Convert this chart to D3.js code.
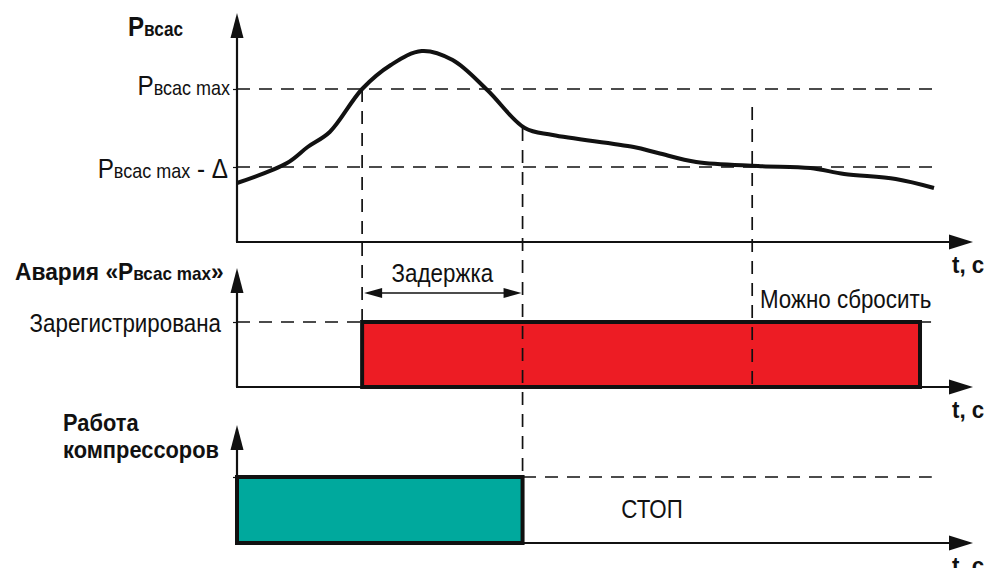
<!DOCTYPE html>
<html>
<head>
<meta charset="utf-8">
<script src="https://cdn.jsdelivr.net/npm/d3@7"></script>
<style>
body { margin: 0; background: #fff; }
text { font-family: "Liberation Sans Narrow", "Arial Narrow", "Liberation Sans", sans-serif; fill: #111; }
</style>
</head>
<body>
<script>
// time in conventional units (0..100), pressure in % of the upper panel
const pressureTimes = [0, 6.8, 9.6, 12.6, 17, 20.9, 25.1, 29.3, 34, 39.1, 42.9, 53.9, 57.2, 62.4, 70.8, 77.9, 82.5, 89.5, 94.7];
const pressureValues = [29.5, 39.5, 47.5, 55, 76.5, 88.5, 95.5, 91, 76, 57, 53.5, 47.5, 44.5, 40, 38, 37, 34, 31.5, 27];
const pMaxLevel = 76.5;
const pMaxDeltaLevel = 37.5;
// events on the time axis
const alarmOn = 17;
const delayEnd = 38.8;
const resetTime = 70;
const alarmOff = 92.8;
const levelEnd = [95, 94.3, 94.4];
// alarm / compressor states: [start, end]
const alarmState = [alarmOn, alarmOff];
const compressorState = [0, delayEnd];
// labels
const axisLabel = "t, c";
const delayLabel = "Задержка";
const resetLabel = "Можно сбросить";
const registeredLabel = "Зарегистрирована";
const stopLabel = "СТОП";

const width = 987, height = 568;
let svg = d3.select("body").append("svg")
    .attr("width", width)
    .attr("height", height);

//shared time scale
let xScale = d3.scaleLinear().domain([0, 100]).range([237, 973]);
//panel scales
let yPress = d3.scaleLinear().domain([0, 100]).range([242, 42]);
let yAlarm = d3.scaleLinear().domain([0, 1]).range([387, 322]);
let yComp = d3.scaleLinear().domain([0, 1]).range([543, 477]);

let panels = [
    { scale: yPress, tip: 13, ticks: [pMaxLevel, pMaxDeltaLevel] },
    { scale: yAlarm, tip: 268, ticks: [1] },
    { scale: yComp, tip: 425, ticks: [1] }
];

function dashed(x1, y1, x2, y2) {
    svg.append("line")
        .attr("x1", x1).attr("y1", y1)
        .attr("x2", x2).attr("y2", y2)
        .style("stroke", "#111")
        .style("stroke-width", 1.7)
        .style("stroke-dasharray", "13,9");
}

//level lines
dashed(xScale(0), yPress(pMaxLevel), xScale(levelEnd[0]), yPress(pMaxLevel));
dashed(xScale(0), yPress(pMaxDeltaLevel), xScale(levelEnd[0]), yPress(pMaxDeltaLevel));
dashed(xScale(0), yAlarm(1), xScale(levelEnd[1]), yAlarm(1));
dashed(xScale(0), yComp(1), xScale(levelEnd[2]), yComp(1));

//state rectangles
svg.append("rect")
    .attr("x", xScale(alarmState[0]))
    .attr("y", yAlarm(1))
    .attr("width", xScale(alarmState[1]) - xScale(alarmState[0]))
    .attr("height", yAlarm(0) - yAlarm(1))
    .style("fill", "#ed1c24")
    .style("stroke", "#111")
    .style("stroke-width", 4);

svg.append("rect")
    .attr("x", xScale(compressorState[0]))
    .attr("y", yComp(1))
    .attr("width", xScale(compressorState[1]) - xScale(compressorState[0]))
    .attr("height", yComp(0) - yComp(1))
    .style("fill", "#00a99d")
    .style("stroke", "#111")
    .style("stroke-width", 4);

//vertical guides
dashed(xScale(alarmOn), yPress(pMaxLevel), xScale(alarmOn), yAlarm(0));
dashed(xScale(delayEnd), yPress(57), xScale(delayEnd), yComp(0));
dashed(xScale(resetTime), yPress(67.5), xScale(resetTime), yAlarm(0));

//axes with arrows
panels.forEach(function (p) {
    let base = p.scale.range()[0];
    let axis = d3.axisLeft(p.scale)
        .tickValues(p.ticks)
        .tickSize(4)
        .tickFormat("");
    let g = svg.append("g")
        .attr("transform", "translate(" + xScale(0) + ",0)")
        .call(axis);
    g.select(".domain").remove();
    g.selectAll(".tick line").style("stroke", "#111").style("stroke-width", 1.2);

    svg.append("line")
        .attr("x1", xScale(0)).attr("y1", base)
        .attr("x2", xScale(0)).attr("y2", p.tip + 10)
        .style("stroke", "#111").style("stroke-width", 2.2);
    svg.append("polygon")
        .attr("points", [[xScale(0), p.tip], [xScale(0) - 6.5, p.tip + 25], [xScale(0) + 6.5, p.tip + 25]].join(" "))
        .style("fill", "#111");

    svg.append("line")
        .attr("x1", xScale(0) - 1).attr("y1", base)
        .attr("x2", xScale(100) - 10).attr("y2", base)
        .style("stroke", "#111").style("stroke-width", 2.2);
    svg.append("polygon")
        .attr("points", [[xScale(100), base], [xScale(100) - 24, base - 7.5], [xScale(100) - 24, base + 7.5]].join(" "))
        .style("fill", "#111");

    label(952, base + 31, "start", true, 0.93, [[axisLabel, 24]]);
});

//pressure curve
let points = pressureTimes.map((t, i) => [t, pressureValues[i]]);
let line = d3.line()
    .x(d => xScale(d[0]))
    .y(d => yPress(d[1]))
    .curve(d3.curveCatmullRom.alpha(0.5));
svg.append("path")
    .datum(points)
    .attr("d", line)
    .style("fill", "none")
    .style("stroke", "#111")
    .style("stroke-width", 4)
    .style("stroke-linejoin", "round");

//delay arrow
let ay = 293;
svg.append("line")
    .attr("x1", xScale(alarmOn) + 8).attr("y1", ay)
    .attr("x2", xScale(delayEnd) - 8).attr("y2", ay)
    .style("stroke", "#111").style("stroke-width", 1.5);
svg.append("polygon")
    .attr("points", [[xScale(alarmOn) + 2, ay], [xScale(alarmOn) + 20, ay - 5], [xScale(alarmOn) + 20, ay + 5]].join(" "))
    .style("fill", "#111");
svg.append("polygon")
    .attr("points", [[xScale(delayEnd) - 1, ay], [xScale(delayEnd) - 19, ay - 5], [xScale(delayEnd) - 19, ay + 5]].join(" "))
    .style("fill", "#111");

//labels made of parts of different size, squeezed horizontally (narrow font look)
function label(x, y, anchor, bold, sx, parts) {
    let t = svg.append("text")
        .attr("transform", "translate(" + x + "," + y + ") scale(" + sx + ",1)")
        .attr("text-anchor", anchor)
        .style("font-weight", bold ? "bold" : "normal");
    parts.forEach(function (p) {
        t.append("tspan").style("font-size", p[1] + "px").text(p[0]);
    });
}

label(128, 36, "start", true, 0.86, [["P", 28], ["всас", 20]]);
label(230, 95, "end", false, 0.9, [["P", 27], ["всас max", 20]]);
label(228, 178, "end", false, 0.9, [["P", 27], ["всас max", 20], [" - Δ", 27]]);
label(15, 280, "start", true, 0.95, [["Авария «", 24], ["P", 24], ["всас max", 18], ["»", 24]]);
label(221, 332, "end", false, 0.86, [[registeredLabel, 26]]);
label(63, 431, "start", true, 0.95, [["Работа", 23]]);
label(63, 458, "start", true, 0.95, [["компрессоров", 23]]);
label((xScale(alarmOn) + xScale(delayEnd)) / 2, 282, "middle", false, 0.86, [[delayLabel, 26]]);
label(760, 308, "start", false, 0.86, [[resetLabel, 26]]);
label(652, 518, "middle", false, 0.86, [[stopLabel, 26]]);
</script>
</body>
</html>
